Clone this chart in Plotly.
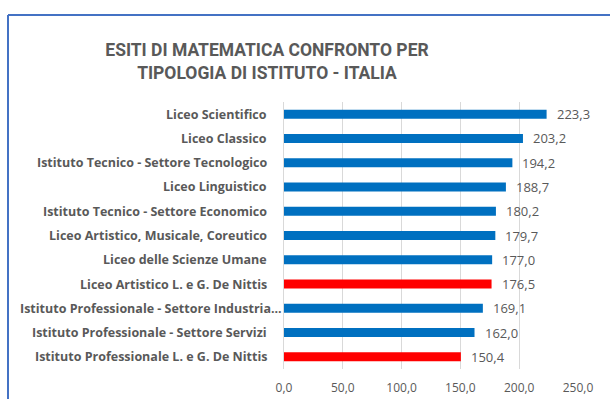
import plotly.graph_objects as go

# Maths results by type of school (Italy)
categories = [
    "Liceo Scientifico",
    "Liceo Classico",
    "Istituto Tecnico - Settore Tecnologico",
    "Liceo Linguistico",
    "Istituto Tecnico - Settore Economico",
    "Liceo Artistico, Musicale, Coreutico",
    "Liceo delle Scienze Umane",
    "Liceo Artistico L. e G. De Nittis",
    "Istituto Professionale - Settore Industria...",
    "Istituto Professionale - Settore Servizi",
    "Istituto Professionale L. e G. De Nittis",
]
values = [223.3, 203.2, 194.2, 188.7, 180.2, 179.7, 177.0, 176.5, 169.1, 162.0, 150.4]
highlight = [False, False, False, False, False, False, False, True, False, False, True]
tick_vals = [0, 50, 100, 150, 200, 250]

BLUE = "#0070C0"
RED = "#FF0000"
GREY = "#595959"

colors = [RED if h else BLUE for h in highlight]
labels = [f"{v:.1f}".replace(".", ",") for v in values]

W, H = 610, 399
L, R, T, B = 284, 32, 102, 30
pw, ph = W - L - R, H - T - B

fig = go.Figure(
    go.Bar(
        x=values,
        y=categories,
        orientation="h",
        marker=dict(color=colors, line=dict(width=0)),
        width=0.37,
        hoverinfo="skip",
    )
)

# value labels just past the end of each bar
for cat, val, lab in zip(categories, values, labels):
    fig.add_annotation(
        x=val, y=cat, text=lab, showarrow=False,
        xanchor="left", yanchor="middle", xshift=8,
        font=dict(family="Open Sans", size=13, color=GREY),
    )

# category names, right-aligned left of the axis; truncated names run up to it
for cat in categories:
    fig.add_annotation(
        x=0, y=cat, text=cat, showarrow=False,
        xanchor="right", yanchor="middle",
        xshift=0 if cat.endswith("...") else -15,
        font=dict(family="Open Sans", size=12.5, color=GREY, weight="bold"),
    )

fig.update_layout(
    width=W,
    height=H,
    margin=dict(l=L, r=R, t=T, b=B),
    paper_bgcolor="white",
    plot_bgcolor="white",
    showlegend=False,
    title=dict(
        text="ESITI DI MATEMATICA CONFRONTO PER<br>TIPOLOGIA DI ISTITUTO - ITALIA",
        x=267 / W,
        xanchor="center",
        y=1 - 56 / H,
        yanchor="middle",
        font=dict(family="Roboto", size=17.5, color=GREY, weight="bold"),
    ),
    xaxis=dict(
        range=[0, 250],
        tickvals=tick_vals,
        ticktext=[f"{t:.1f}".replace(".", ",") for t in tick_vals],
        tickfont=dict(family="Open Sans", size=12, color=GREY),
        ticklabelstandoff=10,
        showgrid=True,
        gridcolor="#D9D9D9",
        gridwidth=1,
        zeroline=False,
        showline=False,
        ticks="",
        automargin=False,
        fixedrange=True,
    ),
    yaxis=dict(
        categoryorder="array",
        categoryarray=categories[::-1],
        showticklabels=False,
        ticks="",
        showgrid=False,
        zeroline=False,
        showline=True,
        linecolor="#D9D9D9",
        linewidth=1,
        automargin=False,
        fixedrange=True,
    ),
    shapes=[
        # outer chart frame (left and top edges)
        dict(type="line", xref="paper", yref="paper",
             x0=(8 - L) / pw, x1=(W + 5 - L) / pw,
             y0=1 + (T - 15) / ph, y1=1 + (T - 15) / ph,
             line=dict(color="#4472C4", width=2)),
        dict(type="line", xref="paper", yref="paper",
             x0=(8 - L) / pw, x1=(8 - L) / pw,
             y0=1 + (T - 15) / ph, y1=-(B + 5) / ph,
             line=dict(color="#4472C4", width=2)),
    ],
)

fig.write_html("out.html")
